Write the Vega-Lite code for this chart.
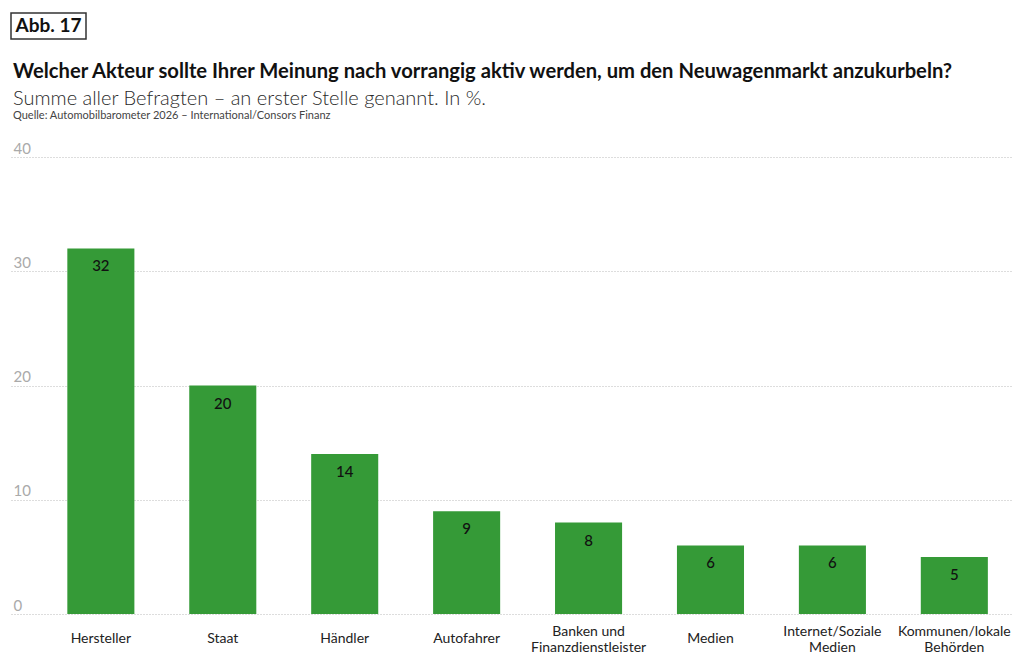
{
  "$schema": "https://vega.github.io/schema/vega-lite/v6.json",
  "background": "white",
  "padding": {"left": 10, "top": 12, "right": 5, "bottom": 5},
  "config": {"view": {"stroke": null}, "font": "Lato", "concat": {"spacing": 0}},
  "vconcat": [
    {
      "width": 75,
      "height": 26,
      "view": {"stroke": "#333", "strokeWidth": 1.5},
      "data": {"values": [{"tag": "Abb. 17"}]},
      "mark": {"type": "text", "font": "Lato", "fontWeight": "bold", "fontSize": 19, "color": "#111", "baseline": "middle", "align": "center"},
      "encoding": {"text": {"field": "tag"}},
      "title": {
        "text": "Welcher Akteur sollte Ihrer Meinung nach vorrangig aktiv werden, um den Neuwagenmarkt anzukurbeln?",
        "subtitle": "Summe aller Befragten – an erster Stelle genannt. In %.",
        "orient": "bottom",
        "anchor": "start",
        "offset": 23,
        "font": "Lato",
        "fontSize": 20.2,
        "fontWeight": "bold",
        "color": "#111",
        "subtitleFont": "Lato",
        "subtitleFontSize": 20,
        "subtitleFontWeight": 300,
        "subtitleColor": "#2a2a2a",
        "subtitlePadding": 7,
        "dx": 2
      }
    },
    {
      "width": 1001,
      "height": 457,
      "title": {
        "text": "Quelle: Automobilbarometer 2026 – International/Consors Finanz",
        "anchor": "start",
        "font": "Lato",
        "fontSize": 11,
        "fontWeight": "normal",
        "color": "#444",
        "offset": 20,
        "dx": 2
      },
      "data": {
        "values": [
          {"akteur": "Hersteller", "wert": 32},
          {"akteur": "Staat", "wert": 20},
          {"akteur": "Händler", "wert": 14},
          {"akteur": "Autofahrer", "wert": 9},
          {"akteur": "Banken und Finanzdienstleister", "wert": 8},
          {"akteur": "Medien", "wert": 6},
          {"akteur": "Internet/Soziale Medien", "wert": 6},
          {"akteur": "Kommunen/lokale Behörden", "wert": 5}
        ]
      },
      "encoding": {
        "x": {
          "field": "akteur",
          "type": "nominal",
          "sort": null,
          "scale": {"paddingInner": 0.45, "paddingOuter": 0.33, "align": 0.7},
          "axis": {
            "title": null,
            "labelAngle": 0,
            "domain": false,
            "ticks": false,
            "labelPadding": {
              "condition": {"test": "indexof(['Banken und Finanzdienstleister', 'Internet/Soziale Medien', 'Kommunen/lokale Behörden'], datum.value) >= 0", "value": 17},
              "value": 24
            },
            "labelBaseline": "middle",
            "labelFont": "Lato",
            "labelFontSize": 14,
            "labelColor": "#222",
            "labelLineHeight": 16,
            "labelExpr": "datum.label == 'Banken und Finanzdienstleister' ? ['Banken und', 'Finanzdienstleister'] : datum.label == 'Internet/Soziale Medien' ? ['Internet/Soziale', 'Medien'] : datum.label == 'Kommunen/lokale Behörden' ? ['Kommunen/lokale', 'Behörden'] : datum.label"
          }
        },
        "y": {
          "field": "wert",
          "type": "quantitative",
          "scale": {"domain": [0, 40]},
          "axis": {
            "title": null,
            "values": [0, 10, 20, 30, 40],
            "domain": false,
            "ticks": false,
            "labelAlign": "left",
            "labelPadding": -2,
            "labelBaseline": "alphabetic",
            "labelOffset": -4,
            "labelFont": "Lato",
            "labelFontSize": 15,
            "labelColor": "#aaa",
            "grid": true,
            "gridColor": "#bbb",
            "gridDash": [1, 2],
            "gridWidth": 1
          }
        }
      },
      "layer": [
        {"mark": {"type": "bar", "color": "#359a37"}},
        {
          "mark": {"type": "text", "baseline": "middle", "dy": 18, "font": "Lato", "fontSize": 15, "fontWeight": 500, "color": "#111"},
          "encoding": {"text": {"field": "wert", "type": "quantitative"}}
        }
      ]
    }
  ]
}
